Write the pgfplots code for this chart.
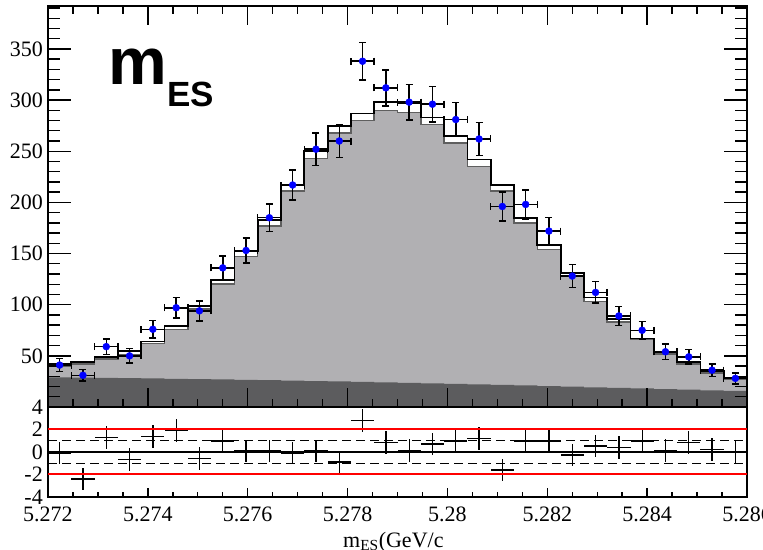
\documentclass[border=0pt]{standalone}
\usepackage{fontspec}
\setmainfont{Liberation Serif}
\newfontfamily\helv{Liberation Sans}
\usepackage{pgfplots}
\pgfplotsset{compat=1.18}
\usepackage{pgfplotstable}

\definecolor{fillgray}{RGB}{177,176,179}
\definecolor{edgegray}{RGB}{95,95,95}
\definecolor{bkggray}{RGB}{92,92,94}

% x = m_ES - 5.272 GeV, in MeV; 30 bins
\pgfplotstableread{
x       tot  sig  bkg
0.0000  42   40   29.0
0.4667  44   42   28.8
0.9333  49   47   28.5
1.4000  55   51   28.2
1.8667  64   62   28.0
2.3333  79   76   27.6
2.8000  99   96   27.3
3.2667  124  120  27.0
3.7333  152  147  26.6
4.2000  183  177  26.2
4.6667  217  211  25.8
5.1333  250  243  25.4
5.6000  275  268  25.0
6.0667  287  280  24.6
6.5333  298  290  24.1
7.0000  297  288  23.6
7.4667  283  276  23.1
7.9333  265  258  22.6
8.4000  242  235  22.1
8.8667  217  211  21.6
9.3333  185  180  21.1
9.8000  158  154  20.5
10.2667 131  128  19.9
10.7333 107  103  19.3
11.2000 86   83   18.7
11.6667 67   66   18.1
12.1333 54   52   17.5
12.6000 44   42   16.9
13.0667 35   33   16.3
13.5333 28   27   15.7
14.0000 28   27   15.7
}\hist

\pgfplotstableread{
x       y    ex      ey     pull
0.2333  41   0.2333  6.40   -0.10
0.7000  31   0.2333  5.57   -2.40
1.1667  59   0.2333  7.68   1.30
1.6333  50   0.2333  7.07   -0.65
2.1000  76   0.2333  8.72   1.36
2.5667  97   0.2333  9.85   1.90
3.0333  94   0.2333  9.70   -0.56
3.5000  136  0.2333  11.66  0.98
3.9667  153  0.2333  12.37  0.10
4.4333  185  0.2333  13.60  0.10
4.9000  217  0.2333  14.73  -0.10
5.3667  252  0.2333  15.87  0.10
5.8333  260  0.2333  16.12  -0.90
6.3000  338  0.2333  18.38  2.80
6.7667  312  0.2333  17.66  0.83
7.2333  298  0.2333  17.26  0.12
7.7000  296  0.2333  17.20  0.71
8.1667  281  0.2333  16.76  0.98
8.6333  262  0.2333  16.19  1.20
9.1000  196  0.2333  14.00  -1.60
9.5667  198  0.2333  14.07  0.98
10.0333 172  0.2333  13.11  0.98
10.5000 128  0.2333  11.31  -0.27
10.9667 112  0.2333  10.58  0.53
11.4333 89   0.2333  9.43   0.38
11.9000 75   0.2333  8.66   0.98
12.3667 54   0.2333  7.35   0.12
12.8333 49   0.2333  7.00   0.83
13.3000 36   0.2333  6.00   0.24
13.7667 28   0.2333  5.29   0.03
}\meas

\begin{document}
\begin{tikzpicture}
\path[use as bounding box] (0pt,0pt) rectangle (763pt,549pt);
\pgfplotsset{
  rootframe/.style={
    scale only axis, width=699pt, xmin=0, xmax=14, anchor=south west,
    axis line style={line width=1.6pt, black},
    tick style={line width=1.4pt, black},
    tick align=inside,
    tick label style={font=\fontsize{22}{22}\selectfont},
    yticklabel style={inner sep=0pt, xshift=-5pt},
  },
}
% main pad
\begin{axis}[rootframe, at={(48pt,142pt)}, height=401pt, ymin=0, ymax=392,
  axis on top,
  xtick=\empty,
  ytick={50,100,...,350}, yticklabels={50,100,150,200,250,300,350},
  minor ytick={0,10,...,390},
  major tick length=23pt, minor tick length=12pt]
\addplot[const plot mark left, fill=fillgray, draw=edgegray, line width=1.5pt]
  table[x=x, y=sig] {\hist} \closedcycle;
\addplot[const plot mark left, fill=bkggray, draw=none]
  table[x=x, y=bkg] {\hist} \closedcycle;
\addplot[const plot mark left, black, line width=1.8pt]
  table[x=x, y=tot] {\hist};
\addplot[only marks, mark=*, mark size=3.5pt, mark options={fill=blue, draw=blue},
  error bars/.cd, x dir=both, x explicit, y dir=both, y explicit,
  error mark=-,
  error bar style={line width=1.5pt, black},
  error mark options={rotate=90, line width=1.5pt, black, mark size=3.5pt}]
  table[x=x, y=y, x error=ex, y error=ey] {\meas};
\end{axis}
% x ticks of main pad
\begin{axis}[rootframe, at={(48pt,142pt)}, height=401pt, ymin=0, ymax=392,
  ytick=\empty, xtick={0,2,...,14}, xticklabels={},
  minor xtick={0,0.5,...,14},
  major tick length=19pt, minor tick length=8pt]
\end{axis}
% residual pad
\begin{axis}[rootframe, at={(48pt,52pt)}, height=90pt, ymin=-4, ymax=4,
  xtick pos=left,
  xtick={0,2,...,14},
  xticklabels={5.272,5.274,5.276,5.278,5.28,5.282,5.284,5.286},
  xticklabel style={inner sep=0pt, yshift=-10pt},
  minor xtick={0,0.5,...,14},
  major tick length=9pt, minor tick length=5pt,
  ytick={-4,-2,0,2,4}, yticklabels={-4,-2,0,2,4},
  ytick style={draw=none}]
\addplot[black, line width=1.2pt, dash pattern=on 9pt off 5pt] coordinates {(0,1) (14,1)};
\addplot[black, line width=1.2pt, dash pattern=on 9pt off 5pt] coordinates {(0,-1) (14,-1)};
\addplot[black, line width=1.5pt] coordinates {(0,0) (14,0)};
\addplot[draw=none, mark=none,
  error bars/.cd, x dir=both, x explicit, y dir=both, y fixed=1,
  error bar style={line width=1.3pt, draw=black},
  error mark=none]
  table[x=x, y=pull, x error=ex] {\meas};
\addplot[draw=red, line width=2pt] coordinates {(0,2.04) (14,2.04)};
\addplot[draw=red, line width=2pt] coordinates {(0,-2) (14,-2)};
\end{axis}
\node[anchor=base west, inner sep=0pt] at (108pt,464pt)
  {\helv\bfseries\fontsize{66}{66}\selectfont m};
\node[anchor=base west, inner sep=0pt] at (167pt,442pt)
  {\helv\bfseries\fontsize{35}{35}\selectfont ES};
\node[anchor=base west, inner sep=0pt] at (343pt,2pt)
  {\fontsize{22}{22}\selectfont m\textsubscript{ES}(GeV/c};
\end{tikzpicture}
\end{document}
